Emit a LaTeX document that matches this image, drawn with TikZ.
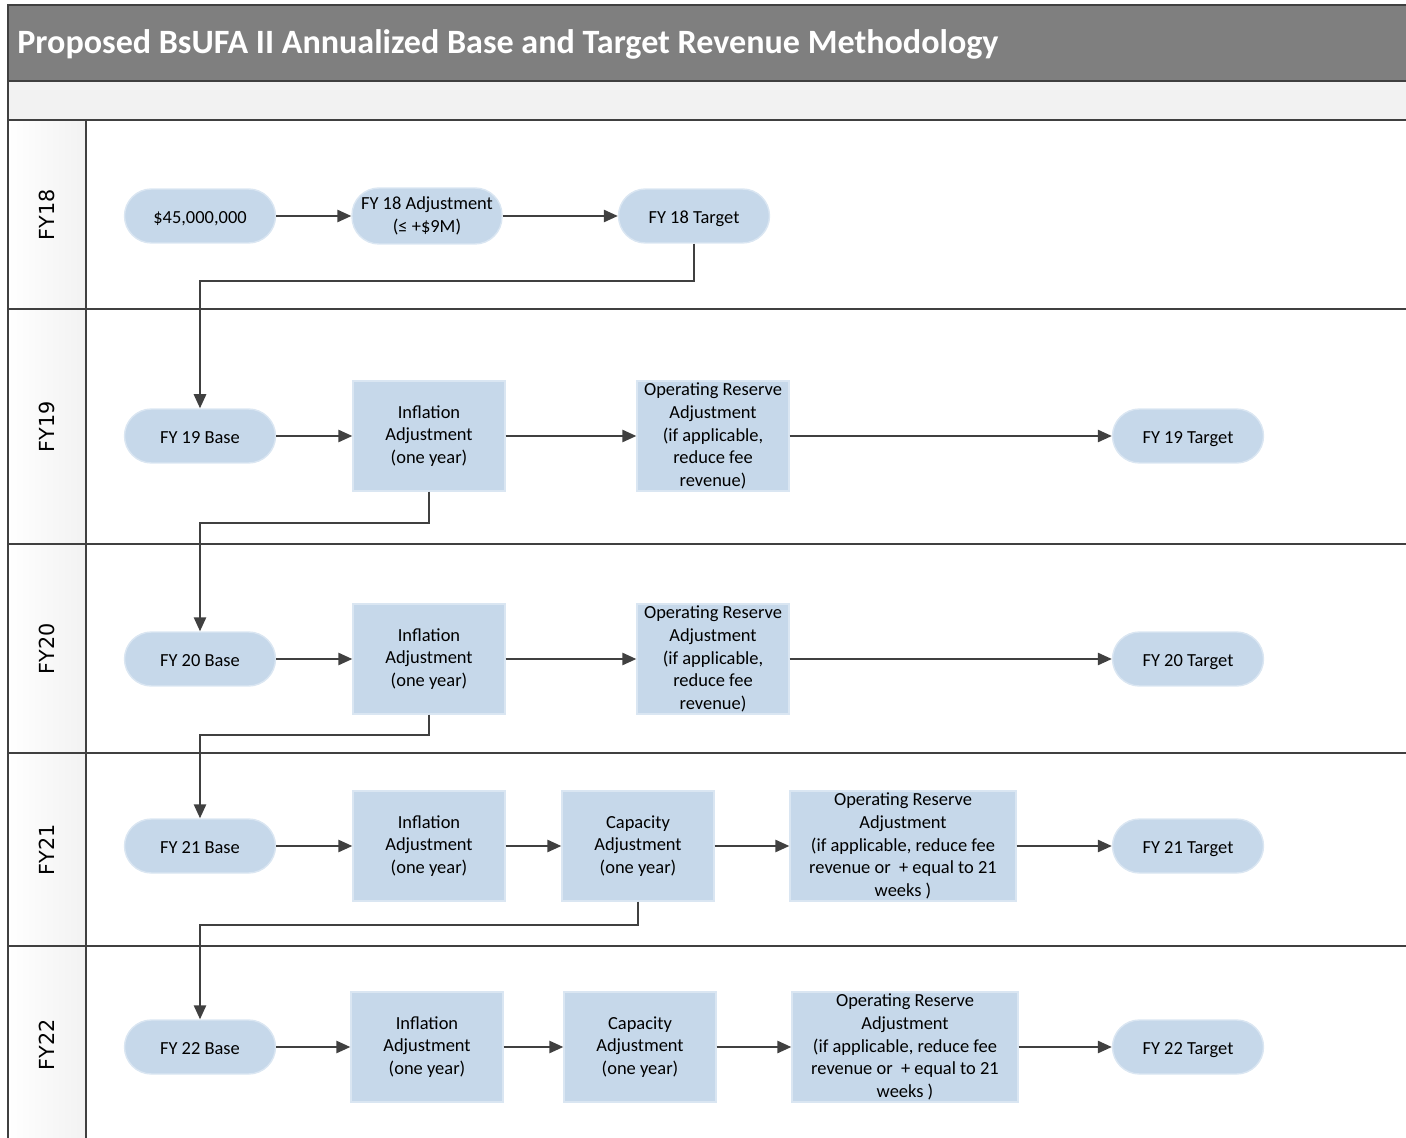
\documentclass[tikz,border=0pt]{standalone}
\usepackage{fontspec}
\setmainfont{Carlito}
\newfontfamily\lanefont{DejaVu Sans}
\usetikzlibrary{arrows.meta}

\definecolor{boxblue}{HTML}{C6D8EA}
\definecolor{boxedge}{HTML}{DAE6F2}
\definecolor{linegray}{HTML}{404040}
\definecolor{titlegray}{HTML}{7F7F7F}
\definecolor{bandgray}{HTML}{F2F2F2}

\tikzset{
    pill/.style={draw=boxedge, line width=0.8pt, fill=boxblue,
        rounded corners=0.54cm, minimum width=3.02cm, minimum height=1.08cm,
        align=center, inner sep=0pt, font=\fontsize{10.5}{13}\selectfont},
    oneline/.style={text height=9pt, text depth=0pt},
    stepbox/.style={draw=boxedge, line width=0.8pt, fill=boxblue,
        minimum width=3.04cm, minimum height=2.2cm,
        align=center, inner sep=0pt, font=\fontsize{10.5}{13}\selectfont},
    widebox/.style={stepbox, minimum width=4.52cm},
    flow/.style={draw=linegray, line width=1.1pt,
        -{Triangle[length=8pt, width=7pt]}},
    lane/.style={draw=linegray, line width=0.9pt},
    lanelabel/.style={rotate=90, font=\lanefont\fontsize{11.8}{13}\selectfont}
}

\begin{document}
\begin{tikzpicture}[x=0.02cm, y=-0.02cm]

    \useasboundingbox (0,0) rectangle (1406,1138);

    % pool frame
    \fill[titlegray] (8,5) rectangle (1406,81);
    \fill[bandgray] (8,81) rectangle (1406,120);
    \shade[left color=white, right color=bandgray] (8,120) rectangle (86,1138);
    \draw[lane] (8,1138) -- (8,5) -- (1406,5);
    \foreach \y in {81,120,309,544,753,946}
        \draw[lane] (8,\y) -- (1406,\y);
    \draw[lane] (86,120) -- (86,1138);

    \node[anchor=west, inner sep=0pt, text=white,
        font=\fontsize{19.4}{23}\selectfont\bfseries]
        (title) at (17,44) {Proposed BsUFA II Annualized Base and Target Revenue Methodology};

    \node[lanelabel] (lane18) at (47,215) {FY18};
    \node[lanelabel] (lane19) at (47,427) {FY19};
    \node[lanelabel] (lane20) at (47,649) {FY20};
    \node[lanelabel] (lane21) at (47,850) {FY21};
    \node[lanelabel] (lane22) at (47,1045) {FY22};

    % FY18
    \node[pill, oneline] (start18) at (200,216) {\$45,000,000};
    \node[pill, minimum width=3.0cm, minimum height=1.12cm] (adj18) at (427,216)
        {FY 18 Adjustment\\(≤ +\$9M)};
    \node[pill, oneline] (tgt18) at (694,216) {FY 18 Target};
    \draw[flow] (start18.east) -- (adj18.west);
    \draw[flow] (adj18.east) -- (tgt18.west);

    % FY19
    \node[pill, oneline] (base19) at (200,436) {FY 19 Base};
    \node[stepbox] (infl19) at (429,436) {Inflation\\Adjustment\\(one year)};
    \node[stepbox] (res19) at (713,436)
        {Operating Reserve\\Adjustment\\(if applicable,\\reduce fee\\revenue)};
    \node[pill, oneline] (tgt19) at (1188,436) {FY 19 Target};
    \draw[flow] (tgt18.south) -- ++(0,37) -| (base19.north);
    \draw[flow] (base19.east) -- (infl19.west);
    \draw[flow] (infl19.east) -- (res19.west);
    \draw[flow] (res19.east) -- (tgt19.west);

    % FY20
    \node[pill, oneline] (base20) at (200,659) {FY 20 Base};
    \node[stepbox] (infl20) at (429,659) {Inflation\\Adjustment\\(one year)};
    \node[stepbox] (res20) at (713,659)
        {Operating Reserve\\Adjustment\\(if applicable,\\reduce fee\\revenue)};
    \node[pill, oneline] (tgt20) at (1188,659) {FY 20 Target};
    \draw[flow] (infl19.south) -- ++(0,31) -| (base20.north);
    \draw[flow] (base20.east) -- (infl20.west);
    \draw[flow] (infl20.east) -- (res20.west);
    \draw[flow] (res20.east) -- (tgt20.west);

    % FY21
    \node[pill, oneline] (base21) at (200,846) {FY 21 Base};
    \node[stepbox] (infl21) at (429,846) {Inflation\\Adjustment\\(one year)};
    \node[stepbox] (cap21) at (638,846) {Capacity\\Adjustment\\(one year)};
    \node[widebox] (res21) at (903,846)
        {Operating Reserve\\Adjustment\\(if applicable, reduce fee\\revenue or \ + equal to 21\\weeks )};
    \node[pill, oneline] (tgt21) at (1188,846) {FY 21 Target};
    \draw[flow] (infl20.south) -- ++(0,20) -| (base21.north);
    \draw[flow] (base21.east) -- (infl21.west);
    \draw[flow] (infl21.east) -- (cap21.west);
    \draw[flow] (cap21.east) -- (res21.west);
    \draw[flow] (res21.east) -- (tgt21.west);

    % FY22
    \node[pill, oneline] (base22) at (200,1047) {FY 22 Base};
    \node[stepbox] (infl22) at (427,1047) {Inflation\\Adjustment\\(one year)};
    \node[stepbox] (cap22) at (640,1047) {Capacity\\Adjustment\\(one year)};
    \node[widebox] (res22) at (905,1047)
        {Operating Reserve\\Adjustment\\(if applicable, reduce fee\\revenue or \ + equal to 21\\weeks )};
    \node[pill, oneline] (tgt22) at (1188,1047) {FY 22 Target};
    \draw[flow] (cap21.south) -- ++(0,23) -| (base22.north);
    \draw[flow] (base22.east) -- (infl22.west);
    \draw[flow] (infl22.east) -- (cap22.west);
    \draw[flow] (cap22.east) -- (res22.west);
    \draw[flow] (res22.east) -- (tgt22.west);

\end{tikzpicture}
\end{document}
